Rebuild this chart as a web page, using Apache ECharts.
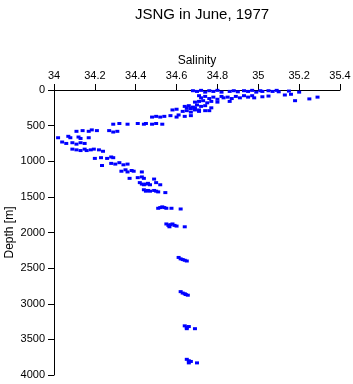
<!DOCTYPE html>
<html>
<head>
<meta charset="utf-8">
<script src="https://cdn.jsdelivr.net/npm/echarts@6/dist/echarts.min.js"></script>
<style>
  html, body { margin: 0; padding: 0; background: #fff; }
  #chart { width: 353px; height: 384px; }
</style>
</head>
<body>
<div id="chart"></div>
<script>
// salinity / depth pairs
var salinity = [
  34.68, 34.70, 34.72, 34.74, 34.76, 34.78, 34.80, 34.82, 34.86, 34.88, 34.90,
  34.93, 34.95, 34.97, 34.99, 35.01, 35.02, 35.05, 35.07, 35.09, 35.10, 35.15, 35.20,
  34.71, 34.72, 34.74, 34.76, 34.78, 34.80, 34.82, 34.83, 34.85, 34.87, 34.89, 34.91,
  34.93, 34.95, 34.97, 34.98, 35.02, 35.05, 35.13, 35.16, 35.18, 35.25, 35.29,
  34.69, 34.71, 34.73, 34.75, 34.77, 34.80, 34.86,
  34.64, 34.66, 34.68, 34.70, 34.72, 34.74, 34.77,
  34.63, 34.65, 34.67, 34.69, 34.71, 34.74, 34.76,
  34.58, 34.60, 34.65, 34.67, 34.69, 34.71,
  34.48, 34.50, 34.52, 34.54, 34.57, 34.60, 34.61, 34.64, 34.67,
  34.29, 34.32, 34.36, 34.41, 34.44, 34.45, 34.48, 34.50, 34.53,
  34.11, 34.14, 34.17, 34.185, 34.21, 34.27, 34.29, 34.31,
  34.02, 34.07, 34.08, 34.12, 34.13, 34.17,
  34.04, 34.06, 34.09, 34.11, 34.13, 34.15,
  34.09, 34.11, 34.13, 34.15, 34.16, 34.18, 34.195, 34.22, 34.24,
  34.20, 34.23, 34.26, 34.28, 34.29,
  34.235, 34.28, 34.30, 34.32, 34.34, 34.36,
  34.33, 34.35, 34.36, 34.38, 34.39, 34.43,
  34.37, 34.41, 34.43, 34.44, 34.49,
  34.42, 34.43, 34.44, 34.45, 34.46, 34.47, 34.50, 34.52,
  34.44, 34.45, 34.46, 34.47, 34.49, 34.50, 34.51, 34.545,
  34.51, 34.52, 34.53, 34.54, 34.55, 34.575, 34.62,
  34.55, 34.56, 34.57, 34.58, 34.59, 34.60, 34.565, 34.64,
  34.61, 34.62, 34.63, 34.64, 34.65,
  34.62, 34.63, 34.64, 34.645, 34.655,
  34.64, 34.65, 34.66, 34.65, 34.69,
  34.65, 34.66, 34.67, 34.66, 34.70
];
var depth = [
  10, 20, 5, 30, 10, 20, 5, 30, 20, 10, 25,
  10, 20, 5, 30, 10, 20, 10, 20, 5, 25, 15, 30,
  80, 110, 90, 120, 100, 130, 90, 110, 100, 120, 90, 110,
  80, 100, 80, 110, 95, 85, 70, 60, 150, 125, 100,
  170, 160, 150, 180, 160, 170, 160,
  230, 220, 240, 210, 230, 220, 250,
  300, 290, 310, 280, 300, 290, 290,
  280, 270, 250, 260, 250, 280,
  380, 370, 380, 370, 360, 380, 350, 370, 360,
  480, 470, 480, 470, 480, 470, 480, 470, 480,
  580, 570, 580, 560, 570, 570, 590, 580,
  670, 650, 670, 660, 680, 670,
  730, 750, 740, 760, 740, 750,
  830, 840, 850, 830, 850, 840, 830, 840, 860,
  960, 950, 960, 940, 950,
  1060, 1030, 1040, 1020, 1050, 1040,
  1140, 1120, 1150, 1130, 1140, 1150,
  1240, 1230, 1220, 1240, 1250,
  1300, 1320, 1330, 1320, 1310, 1330, 1300, 1330,
  1400, 1420, 1410, 1420, 1410, 1420, 1430, 1440,
  1660, 1650, 1640, 1650, 1660, 1660, 1670,
  1880, 1900, 1890, 1880, 1900, 1910, 1920, 1920,
  2350, 2370, 2380, 2390, 2400,
  2830, 2850, 2860, 2870, 2880,
  3310, 3330, 3320, 3350, 3350,
  3780, 3800, 3810, 3830, 3830
];
var salinityTicks = ['34', '34.2', '34.4', '34.6', '34.8', '35', '35.2', '35.4'];

var points = salinity.map(function (s, i) { return [s, depth[i]]; });
var font = 'Liberation Sans, Arial, sans-serif';

var chart = echarts.init(document.getElementById('chart'));
chart.setOption({
  animation: false,
  title: {
    text: 'JSNG in June, 1977',
    left: 197, top: 2, textAlign: 'center',
    textStyle: { fontFamily: font, fontSize: 15, fontWeight: 'normal', color: '#000' }
  },
  grid: { left: 54, right: 13, top: 90, bottom: 9, containLabel: false, outerBoundsMode: 'none' },
  xAxis: {
    type: 'value', position: 'top',
    min: 34, max: 35.4, interval: 0.2,
    name: 'Salinity', nameLocation: 'middle', nameGap: 23, nameMoveOverlap: false,
    nameTextStyle: { fontFamily: font, fontSize: 12, color: '#000' },
    axisLine: { onZero: false, lineStyle: { color: '#000', width: 1 } },
    axisTick: { length: 6, lineStyle: { color: '#000' } },
    axisLabel: {
      margin: 9, fontFamily: font, fontSize: 11, color: '#000',
      formatter: function (v) {
        var i = Math.round((v - 34) / 0.2);
        return salinityTicks[i] || '';
      }
    },
    splitLine: { show: false }
  },
  yAxis: {
    type: 'value', inverse: true,
    min: 0, max: 4000, interval: 500,
    name: 'Depth [m]', nameLocation: 'middle', nameGap: 38, nameMoveOverlap: false,
    nameTextStyle: { fontFamily: font, fontSize: 12, color: '#000' },
    axisLine: { show: true, onZero: false, lineStyle: { color: '#000', width: 1 } },
    axisTick: { show: true, length: 6, lineStyle: { color: '#000' } },
    axisLabel: {
      margin: 9, fontFamily: font, fontSize: 11, color: '#000',
      formatter: function (v) { return String(v); }
    },
    splitLine: { show: false }
  },
  series: [{
    type: 'scatter',
    data: points,
    symbol: 'rect',
    symbolSize: [4, 3],
    itemStyle: { color: '#0000ff', opacity: 1 }
  }]
});
</script>
</body>
</html>
